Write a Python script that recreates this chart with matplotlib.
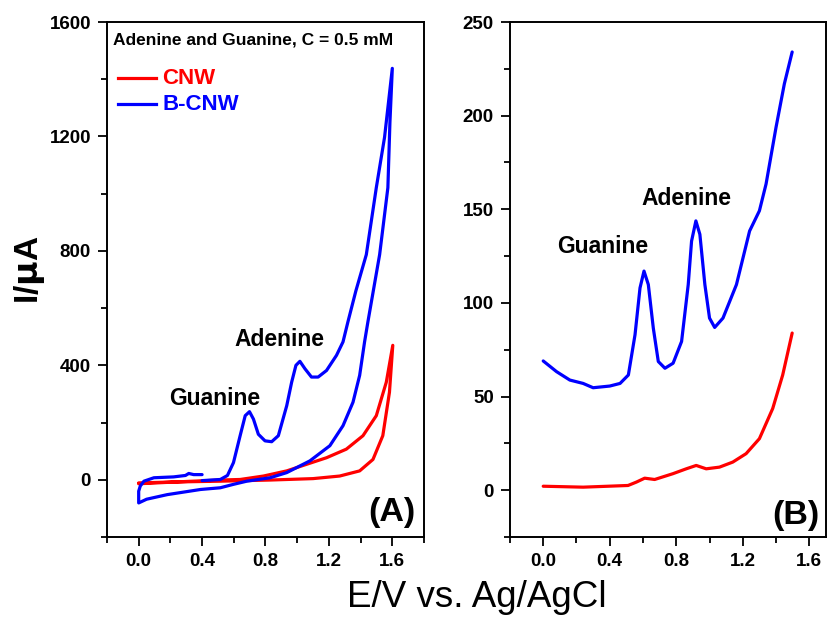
import matplotlib
matplotlib.use('Agg')
import matplotlib.pyplot as plt
from matplotlib.ticker import MultipleLocator, FormatStrFormatter

plt.rcParams['font.family'] = ['Liberation Sans', 'DejaVu Sans']

# panel A: cyclic voltammograms (closed loops)
cnw_a_E = [0.00, 0.20, 0.515, 0.829, 1.10, 1.268, 1.394, 1.478, 1.54, 1.582, 1.603,
           1.562, 1.499, 1.415, 1.31, 1.185, 1.059, 0.934, 0.787, 0.64, 0.515,
           0.30, 0.15, 0.00]
cnw_a_I = [-11, -8, -5, -1, 4, 13, 31, 71, 154, 306, 470,
           341, 224, 154, 107, 77, 54, 31, 13, 1, -1,
           -6, -10, -14]

bcnw_a_E = [0.40, 0.515, 0.56, 0.598, 0.64, 0.672, 0.699, 0.724, 0.755, 0.797, 0.839,
            0.881, 0.934, 0.965, 0.992, 1.017, 1.049, 1.09, 1.132, 1.185, 1.248, 1.289,
            1.32, 1.37, 1.436, 1.499, 1.551, 1.60,
            1.585, 1.572, 1.52, 1.446, 1.425, 1.394, 1.352, 1.289, 1.206, 1.08, 0.934,
            0.829, 0.682, 0.598, 0.515, 0.39, 0.18, 0.05, 0.00,
            0.00, 0.01, 0.033, 0.096, 0.22, 0.295, 0.316, 0.347, 0.40]
bcnw_a_I = [-3, 1, 15, 60, 154, 224, 238, 212, 159, 136, 133,
            154, 259, 341, 400, 414, 388, 359, 359, 382, 435, 482,
            552, 660, 787, 1021, 1197, 1438,
            1250, 1021, 787, 552, 482, 365, 271, 189, 119, 66, 25,
            7, -5, -16, -28, -34, -52, -68, -81,
            -40, -22, -5, 7, 10, 15, 22, 18, 18]

# panel B: differential pulse voltammograms
cnw_b_E = [0.00, 0.24, 0.51, 0.56, 0.61, 0.67, 0.78, 0.86, 0.92, 0.98, 1.06, 1.14,
           1.22, 1.30, 1.38, 1.44, 1.497]
cnw_b_I = [2.1, 1.6, 2.5, 4.3, 6.4, 5.7, 8.8, 11.4, 13.2, 11.4, 12.3, 15.0,
           19.5, 27.5, 43.6, 61.5, 83.9]

bcnw_b_E = [0.00, 0.08, 0.16, 0.24, 0.30, 0.40, 0.462, 0.512, 0.552, 0.582, 0.606,
            0.632, 0.662, 0.692, 0.732, 0.781, 0.832, 0.872, 0.892, 0.918, 0.942,
            0.972, 1.00, 1.031, 1.081, 1.162, 1.241, 1.30, 1.34, 1.40, 1.45, 1.497]
bcnw_b_I = [69, 63.3, 58.8, 57, 54.7, 55.6, 57, 61.5, 83, 108, 117,
            109.8, 86.5, 68.7, 65.1, 67.8, 79.4, 109.8, 133, 143.8, 136.6,
            109.8, 91.9, 86.9, 91.9, 109.8, 138.4, 149.2, 163.5, 193.8, 217, 234]

RED = '#ff0000'
BLUE = '#0000ff'
LW = 2.3

fig = plt.figure(figsize=(8.28, 6.17), dpi=100)
axA = fig.add_axes([0.1292, 0.1297, 0.3829, 0.8346])
axB = fig.add_axes([0.6159, 0.1297, 0.3816, 0.8346])

kw = dict(lw=LW, solid_joinstyle='round', solid_capstyle='round')
axA.plot(cnw_a_E, cnw_a_I, color=RED, **kw)
axA.plot(bcnw_a_E, bcnw_a_I, color=BLUE, **kw)
axB.plot(cnw_b_E, cnw_b_I, color=RED, **kw)
axB.plot(bcnw_b_E, bcnw_b_I, color=BLUE, **kw)

axA.set_xlim(-0.2, 1.8)
axA.set_ylim(-200, 1600)
axA.yaxis.set_major_locator(MultipleLocator(400))
axA.yaxis.set_minor_locator(MultipleLocator(200))
axB.set_xlim(-0.2, 1.7)
axB.set_ylim(-25, 250)
axB.yaxis.set_major_locator(MultipleLocator(50))
axB.yaxis.set_minor_locator(MultipleLocator(25))

for ax in (axA, axB):
    ax.xaxis.set_major_locator(MultipleLocator(0.4))
    ax.xaxis.set_minor_locator(MultipleLocator(0.2))
    ax.xaxis.set_major_formatter(FormatStrFormatter('%.1f'))
    ax.tick_params(which='both', direction='out', top=False, right=False, width=1.3)
    ax.tick_params(which='major', length=6.5, labelsize=13.5, pad=5)
    ax.tick_params(which='minor', length=4)
    for s in ax.spines.values():
        s.set_linewidth(1.4)
    for lab in ax.get_xticklabels() + ax.get_yticklabels():
        lab.set_fontweight('bold')

# annotations panel A
axA.text(0.019, 0.965, 'Adenine and Guanine, C = 0.5 mM', transform=axA.transAxes,
         fontsize=12.5, fontweight='bold', va='center', ha='left')
axA.plot([-0.13, 0.107], [1404, 1404], color=RED, lw=LW)
axA.plot([-0.13, 0.107], [1312, 1312], color=BLUE, lw=LW)
axA.text(0.15, 1404, 'CNW', color=RED, fontsize=16, fontweight='bold', va='center')
axA.text(0.15, 1312, 'B-CNW', color=BLUE, fontsize=16, fontweight='bold', va='center')
axA.text(0.48, 285, 'Guanine', fontsize=16.5, fontweight='bold', ha='center', va='center')
axA.text(0.89, 490, 'Adenine', fontsize=16.5, fontweight='bold', ha='center', va='center')
axA.text(1.60, -116, '(A)', fontsize=24.5, fontweight='bold', ha='center', va='center')

# annotations panel B
axB.text(0.36, 130, 'Guanine', fontsize=16.5, fontweight='bold', ha='center', va='center')
axB.text(0.86, 156, 'Adenine', fontsize=16.5, fontweight='bold', ha='center', va='center')
axB.text(1.517, -13.4, '(B)', fontsize=24.5, fontweight='bold', ha='center', va='center')

fig.text(0.036, 0.5624, r'I/$\mathbf{\mu}$A', fontsize=24, fontweight='bold', rotation=90,
         ha='center', va='center')
fig.text(0.576, 0.032, 'E/V vs. Ag/AgCl', fontsize=26.5, ha='center', va='center')

fig.savefig('out.png', dpi=100)
